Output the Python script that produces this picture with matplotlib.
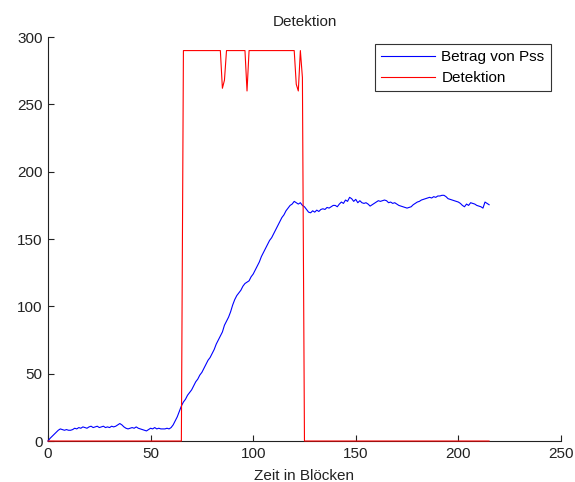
import matplotlib
matplotlib.use("Agg")
import matplotlib.pyplot as plt

blocks = list(range(216))

betrag_pss = [
    0, 2, 3.5, 5, 6.5, 8, 9, 8.5, 8, 8.5,
    8, 8, 8.5, 9.5, 9, 10, 9.5, 10.5, 10, 9.5,
    10.5, 11, 10, 10.5, 11, 10, 10.5, 11, 10, 10.5,
    10, 11, 10.5, 11, 12, 13, 12, 10.5, 9.5, 9,
    9.5, 10, 9.5, 10.5, 9.5, 9, 8.5, 8, 7.5, 8.5,
    9.5, 9, 10, 9, 9.5, 9, 9, 9, 9.5, 9,
    10, 12, 15, 18, 22, 26, 29, 31, 34, 36,
    38, 41, 44, 46, 49, 51, 54, 57, 60, 62,
    65, 68, 72, 75, 78, 81, 86, 89, 92, 96,
    101, 105, 108, 110, 112, 115, 117, 118, 119, 122,
    124, 127, 130, 133, 137, 140, 143, 146, 149, 151,
    154, 157, 160, 163, 166, 168, 171, 173, 175, 176,
    178, 177, 176, 177, 175, 174, 172, 170, 169.5, 171,
    170, 171.5, 170.5, 172, 172.5, 172, 173.5, 173, 174, 175,
    175, 174, 176, 177.5, 176.5, 179, 178, 181, 180, 178,
    179.5, 177, 178.5, 177, 176.5, 177, 176, 174.5, 175.5, 176.5,
    177.5, 178.5, 178, 178.5, 179, 178.5, 177, 177.5, 176.5, 177,
    176, 175, 174.5, 174, 173.5, 173, 173.5, 174, 175.5, 176.5,
    177.5, 178, 179, 179.5, 180, 180.5, 181, 180.5, 181.5, 181,
    182, 182, 182.5, 182.5, 181.5, 180, 179.5, 179, 178.5, 178,
    177.5, 176.5, 175, 174, 176, 175, 177, 176.5, 176, 175,
    174.5, 174, 173, 177.5, 176.5, 175.5,
]

detektion = ([0] * 66 + [290] * 19 + [262, 268] + [290] * 10 + [260]
             + [290] * 23 + [265, 260, 290, 270] + [0] * 91)

x_ticks = [0, 50, 100, 150, 200, 250]
y_ticks = [0, 50, 100, 150, 200, 250, 300]

plt.rcParams['font.family'] = ['Liberation Sans', 'DejaVu Sans']

fig = plt.figure(figsize=(5.75, 4.82), dpi=100)
ax = fig.add_axes([0.0835, 0.085, 0.892, 0.838])

ax.plot(blocks, betrag_pss, color=(0, 0, 1), lw=0.8, label='Betrag von Pss',
        zorder=3, clip_on=False)
ax.plot(blocks, detektion, color=(1, 0, 0), lw=0.8, label='Detektion',
        zorder=4, clip_on=False)

ax.set_xlim(0, 250)
ax.set_ylim(0, 300)
ax.set_xticks(x_ticks)
ax.set_yticks(y_ticks)
ax.spines['top'].set_visible(False)
ax.spines['right'].set_visible(False)
for s in ('left', 'bottom'):
    ax.spines[s].set_linewidth(0.8)
    ax.spines[s].set_color('#222222')
ax.tick_params(direction='in', length=4, width=0.8, labelsize=11,
               colors='#222222', pad=4)

ax.set_title('Detektion', fontsize=11, pad=8, color='#222222')
ax.set_xlabel('Zeit in Blöcken', fontsize=11, labelpad=6, color='#222222')

leg = ax.legend(loc='upper right', bbox_to_anchor=(0.98, 0.983),
                borderaxespad=0, fontsize=11, fancybox=False,
                edgecolor='#333333', framealpha=1, handlelength=3.5,
                handletextpad=0.45, labelspacing=0.45, borderpad=0.4)
leg.get_frame().set_linewidth(0.8)

fig.savefig('out.png', dpi=100)
